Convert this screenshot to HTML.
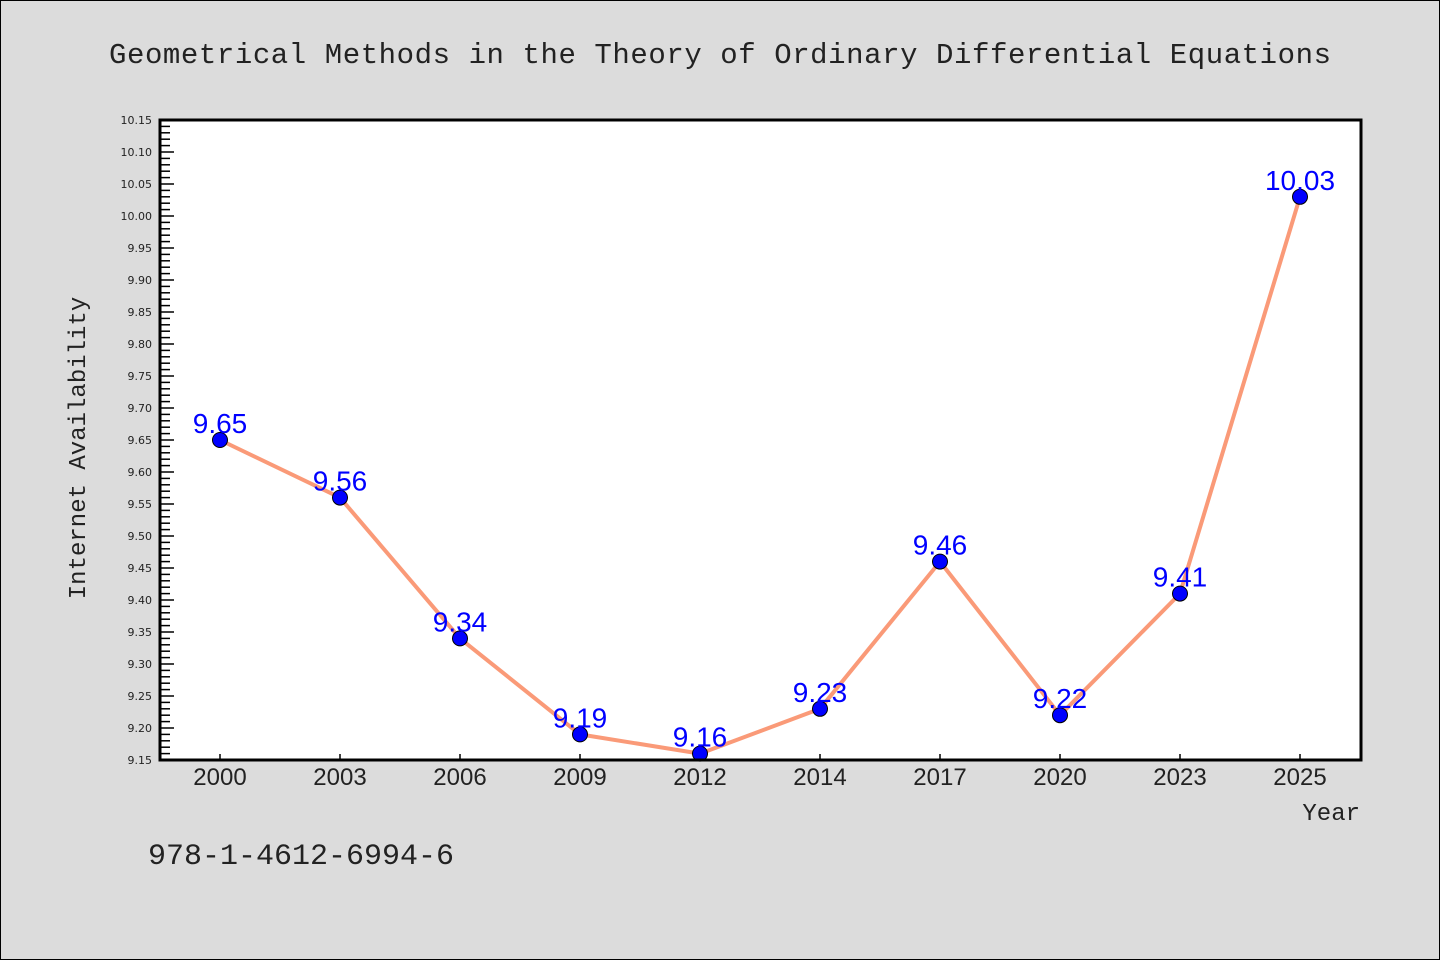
<!DOCTYPE html>
<html><head><meta charset="utf-8"><style>
html,body{margin:0;padding:0;background:#dcdcdc;}
svg{display:block;}
</style></head><body>
<svg id="chart" width="1440" height="960" xmlns="http://www.w3.org/2000/svg">
<rect x="0.5" y="0.5" width="1439" height="959" fill="#dcdcdc" stroke="#000"/>
<text x="720" y="63" text-anchor="middle" font-family="'WenQuanYi Zen Hei','Liberation Mono',monospace" font-size="29" textLength="1222" fill="#222">Geometrical Methods in the Theory of Ordinary Differential Equations</text>
<rect x="160" y="120" width="1201" height="640" fill="#fff"/>
<g id="yticks"></g>
<g id="xticks"></g>
<g id="series"></g>
<rect x="160" y="120" width="1201" height="640" fill="none" stroke="#000" stroke-width="3"/>
<text transform="translate(85,448) rotate(-90)" text-anchor="middle" font-family="'WenQuanYi Zen Hei','Liberation Mono',monospace" font-size="24" fill="#222">Internet Availability</text>
<text x="1360" y="820" text-anchor="end" font-family="'WenQuanYi Zen Hei','Liberation Mono',monospace" font-size="24" fill="#222">Year</text>
<text x="148" y="864" font-family="'WenQuanYi Zen Hei','Liberation Mono',monospace" font-size="30" fill="#222">978-1-4612-6994-6</text>
</svg>
<script>
const years = ["2000","2003","2006","2009","2012","2014","2017","2020","2023","2025"];
const values = [9.65, 9.56, 9.34, 9.19, 9.16, 9.23, 9.46, 9.22, 9.41, 10.03];
const yMin = 9.15, yMax = 10.15;
const yTickLabels = ["9.15","9.20","9.25","9.30","9.35","9.40","9.45","9.50","9.55","9.60","9.65","9.70","9.75","9.80","9.85","9.90","9.95","10.00","10.05","10.10","10.15"];

const NS = "http://www.w3.org/2000/svg";
const L=160, R=1361, T=120, B=760;
function yScale(v){ return B - (v - yMin) / (yMax - yMin) * (B - T); }
function xScale(i){ return 220 + i * 120; }
function mk(tag, attrs, parent){ const e=document.createElementNS(NS,tag); for(const k in attrs) e.setAttribute(k,attrs[k]); parent.appendChild(e); return e; }

const yg=document.getElementById('yticks');
const nMinor = Math.round((yMax - yMin) / 0.01);
for(let i=1;i<nMinor;i++){
  if(i%5===0) continue;
  const y=yScale(yMin+i*0.01);
  const t=mk('line',{x1:L,x2:L+10,y1:y,y2:y,stroke:'#000','stroke-width':1.5},yg);
  
  
}
yTickLabels.forEach(s=>{
  const y=yScale(parseFloat(s));
  const t=mk('line',{x1:L,x2:L+14,y1:y,y2:y,stroke:'#000','stroke-width':1.5},yg);
  
  
  const tx=mk('text',{x:152,y:y+4,'text-anchor':'end','font-family':"'DejaVu Sans',sans-serif",'font-size':11,fill:'#222'},yg);
  tx.textContent=s;
  
  
});

const xg=document.getElementById('xticks');
years.forEach((yr,i)=>{
  const x=xScale(i);
  const t=mk('line',{x1:x,x2:x,y1:B,y2:B-6,stroke:'#000','stroke-width':1.5},xg);
  
  
  const tx=mk('text',{x:x,y:785,'text-anchor':'middle','font-family':"'Liberation Sans','WenQuanYi Zen Hei',sans-serif",'font-size':24,fill:'#222'},xg);
  tx.textContent=yr;
  
  
});

const sg=document.getElementById('series');
const pts=values.map((v,i)=>xScale(i)+','+yScale(v)).join(' ');
const line=mk('polyline',{points:pts,fill:'none',stroke:'#fa9a78','stroke-width':4,'stroke-linejoin':'round'},sg);


values.forEach((v,i)=>{
  const c=mk('circle',{cx:xScale(i),cy:yScale(v),r:7.5,fill:'#0000ff',stroke:'#000','stroke-width':1},sg);
  
  
});
values.forEach((v,i)=>{
  const tx=mk('text',{x:xScale(i),y:yScale(v)-7,'text-anchor':'middle','font-family':"'Liberation Sans',sans-serif",'font-size':28,fill:'#0000ff'},sg);
  tx.textContent=v.toFixed(2);
  
  
});
</script>
</body></html>
